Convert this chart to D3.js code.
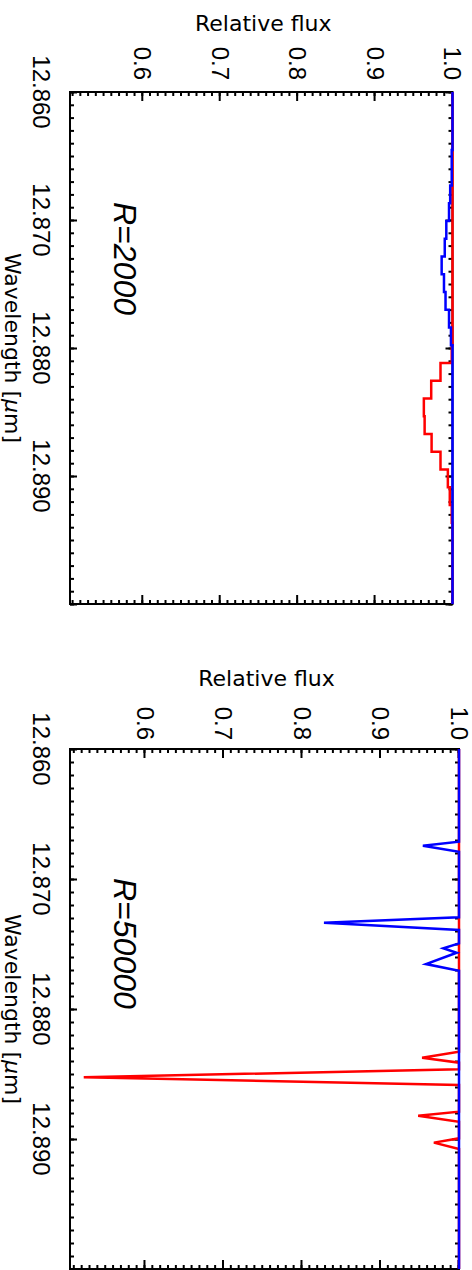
<!DOCTYPE html>
<html>
<head>
<meta charset="utf-8">
<script src="https://cdn.jsdelivr.net/npm/d3@7"></script>
<style>
body { margin: 0; background: #fff; }
svg { display: block; }
</style>
</head>
<body>
<div class="svgContainer"></div>
<script>
var width = 472,
	height = 1270;

var waveTicks = [12.860, 12.870, 12.880, 12.890];
var fluxTicks = [0.6, 0.7, 0.8, 0.9, 1.0];
var panelLabels = ["R=2000", "R=50000"];

// R=2000 : binned spectrum, bin centres
var lowResWave = [12.860, 12.86384, 12.86522, 12.86661, 12.86800, 12.86939, 12.87077, 12.87216,
	12.87354, 12.87493, 12.87632, 12.87770, 12.87909, 12.88048, 12.88187, 12.88325, 12.88464,
	12.88603, 12.88741, 12.88880, 12.89019, 12.89157, 12.89296, 12.89435, 12.900];
var lowResBlue = [1.0, 1.0, 0.999, 0.999, 0.997, 0.9955, 0.992, 0.990,
	0.986, 0.989, 0.991, 0.9955, 0.998, 1.0, 1.0, 1.0, 1.0,
	1.0, 1.0, 1.0, 1.0, 1.0, 1.0, 1.0, 1.0];
var lowResRed = [1.0, 1.0, 1.0, 1.0, 1.0, 1.0, 1.0, 1.0,
	1.0, 1.0, 1.0, 1.0, 1.0, 0.999, 0.9845, 0.9725, 0.963,
	0.964, 0.973, 0.9845, 0.994, 0.9965, 0.999, 1.0, 1.0];

// R=50000
var highResBlueWave = [12.860, 12.86713, 12.86744, 12.86790, 12.87295, 12.87336, 12.87392,
	12.87495, 12.87533, 12.87567, 12.87654, 12.87705, 12.900];
var highResBlueFlux = [1.0, 1.0, 0.954, 1.0, 1.0, 0.828, 1.0,
	1.0, 0.980, 0.997, 0.958, 1.0, 1.0];
var highResRedWave = [12.860, 12.88328, 12.88375, 12.88413, 12.88464, 12.88525, 12.88585,
	12.88790, 12.88821, 12.88867, 12.88995, 12.89028, 12.89077, 12.900];
var highResRedFlux = [1.0, 1.0, 0.953, 1.0, 1.0, 0.522, 1.0,
	1.0, 0.948, 1.0, 1.0, 0.968, 1.0, 1.0];

var panels = [
	{label: panelLabels[0], x0: 92, x1: 604, yTop: 19.5, yBot: 402, fMin: 0.506,
		titleY: 31, labelEnd: 80, textX: 202, curve: d3.curveStep,
		red: d3.zip(lowResWave, lowResRed), blue: d3.zip(lowResWave, lowResBlue)},
	{label: panelLabels[1], x0: 749, x1: 1269, yTop: 13, yBot: 402, fMin: 0.5045,
		titleY: 686, labelEnd: 740, textX: 878, curve: d3.curveLinear,
		red: d3.zip(highResRedWave, highResRedFlux), blue: d3.zip(highResBlueWave, highResBlueFlux)}
];

var svg = d3.select("div.svgContainer")
	.append("svg")
	.attr("width", width)
	.attr("height", height);

// the whole figure is turned a quarter turn clockwise
var g = svg.append("g")
	.attr("transform", "translate(" + width + ",0) rotate(90)");

panels.forEach(drawPanel);

function drawPanel(p) {
	var x = d3.scaleLinear().domain([12.860, 12.900]).range([p.x0, p.x1]),
		y = d3.scaleLinear().domain([p.fMin, 1.0]).range([p.yBot, p.yTop]);

	var pg = g.append("g");

	// ticks on all four sides, pointing inwards
	addAxis(pg, d3.axisBottom(x).tickValues(x.ticks(40)).tickSize(-4), 0, p.yBot);
	addAxis(pg, d3.axisBottom(x).tickValues(x.ticks(4)).tickSize(-7), 0, p.yBot);
	addAxis(pg, d3.axisTop(x).tickValues(x.ticks(40)).tickSize(-4), 0, p.yTop);
	addAxis(pg, d3.axisTop(x).tickValues(x.ticks(4)).tickSize(-7), 0, p.yTop);
	addAxis(pg, d3.axisLeft(y).tickValues(y.ticks(50)).tickSize(-4), p.x0, 0);
	addAxis(pg, d3.axisLeft(y).tickValues(fluxTicks).tickSize(-9), p.x0, 0);
	addAxis(pg, d3.axisRight(y).tickValues(y.ticks(50)).tickSize(-4), p.x1, 0);
	addAxis(pg, d3.axisRight(y).tickValues(fluxTicks).tickSize(-9), p.x1, 0);

	pg.append("rect")
		.attr("x", p.x0)
		.attr("y", p.yTop)
		.attr("width", p.x1 - p.x0)
		.attr("height", p.yBot - p.yTop)
		.attr("fill", "none")
		.attr("stroke", "#000")
		.attr("stroke-width", 2);

	var line = d3.line()
		.x(function(d) { return x(d[0]); })
		.y(function(d) { return y(d[1]); })
		.curve(p.curve);

	pg.append("path")
		.attr("d", line(p.red))
		.attr("fill", "none")
		.attr("stroke", "#ff0000")
		.attr("stroke-width", 2.5);
	pg.append("path")
		.attr("d", line(p.blue))
		.attr("fill", "none")
		.attr("stroke", "#0000ff")
		.attr("stroke-width", 2.5);

	pg.selectAll("text.wave")
		.data(waveTicks)
		.enter().append("text")
		.attr("class", "wave")
		.attr("x", function(d) { return x(d); })
		.attr("y", p.yBot + 37)
		.attr("text-anchor", "middle")
		.style("font", "24px 'Liberation Sans', Arial, sans-serif")
		.text(d3.format(".3f"));

	pg.selectAll("text.flux")
		.data(fluxTicks)
		.enter().append("text")
		.attr("class", "flux")
		.attr("x", p.labelEnd)
		.attr("y", function(d) { return y(d); })
		.attr("dy", "0.35em")
		.attr("text-anchor", "end")
		.style("font", "24px 'Liberation Sans', Arial, sans-serif")
		.text(d3.format(".1f"));

	pg.append("text")
		.attr("transform", "translate(" + p.titleY + "," + ((p.yTop + p.yBot) / 2 - 2) + ") rotate(-90)")
		.attr("text-anchor", "middle")
		.style("font", "22px 'DejaVu Sans', sans-serif")
		.text("Relative flux");

	var wt = pg.append("text")
		.attr("x", (p.x0 + p.x1) / 2)
		.attr("y", 467)
		.attr("text-anchor", "middle")
		.style("font", "22px 'DejaVu Sans', sans-serif");
	wt.append("tspan").text("Wavelength [");
	wt.append("tspan").style("font-style", "italic").text("\u03bc");
	wt.append("tspan").text("m]");

	pg.append("text")
		.attr("x", p.textX)
		.attr("y", 358)
		.style("font", "italic 32px 'Liberation Sans', Arial, sans-serif")
		.text(p.label);
}

function addAxis(sel, axis, tx, ty) {
	var a = sel.append("g")
		.attr("transform", "translate(" + tx + "," + ty + ")")
		.call(axis.tickSizeOuter(0).tickFormat(""));
	a.select(".domain").remove();
	a.selectAll("line").attr("stroke", "#000").attr("stroke-width", 2);
}
</script>
</body>
</html>
